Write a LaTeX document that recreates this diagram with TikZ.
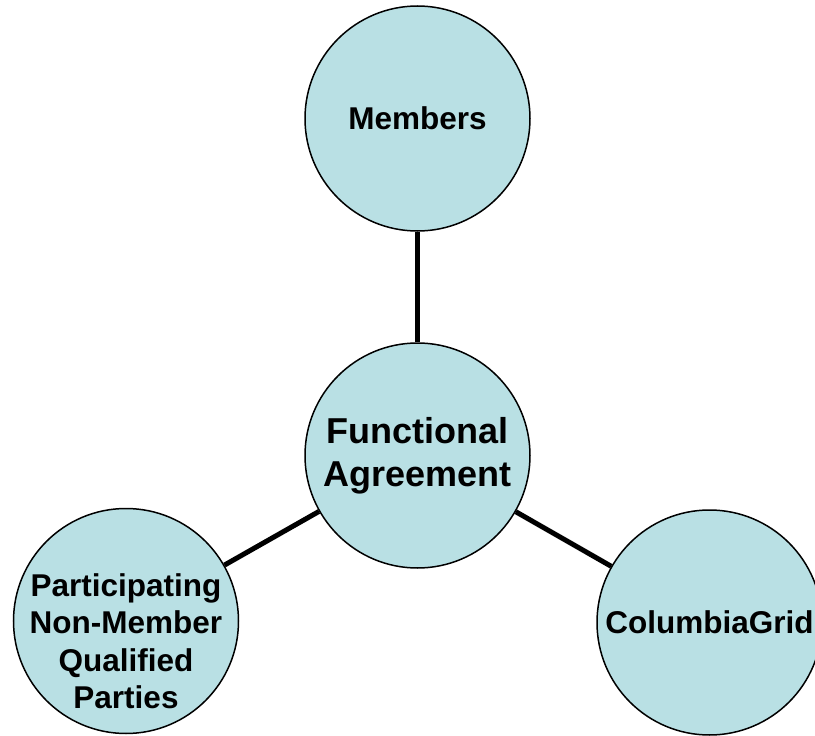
\documentclass[tikz,border=0pt]{standalone}
\usepackage{fontspec}
\setmainfont{Liberation Sans}
\usetikzlibrary{positioning}

\definecolor{partyblue}{RGB}{185,224,228}

\begin{document}
\begin{tikzpicture}[
    x=1pt, y=-1pt,
    party/.style={circle, draw=black, line width=1.5pt, fill=partyblue, minimum size=225pt, inner sep=0pt, text centered, align=center, font=\bfseries\fontsize{31.5}{37.5}\selectfont},
    hub/.style={party, font=\bfseries\fontsize{36}{43}\selectfont},
    partytext/.style={align=center, inner sep=0pt, font=\bfseries\fontsize{31.5}{37.5}\selectfont},
    link/.style={line width=5pt, black}
]
\useasboundingbox (0,0) rectangle (815,736);
\clip (0,0) rectangle (815,736);

% === CIRCLES ===
\node (members) [party] at (417.5,118.5) {Members};
\node (agreement) [hub] at (417.5,455.5) {Functional\\Agreement};
\node (pnmqp) [party] at (126,621) {};
\node (pnmqptext) [partytext] at ([yshift=-20pt]pnmqp.center) {Participating\\Non-Member\\Qualified\\Parties};
\node (cgrid) [party] at (709.5,622.5) {ColumbiaGrid};

% === LINKS ===
\draw [link] (agreement) -- (members);
\draw [link] (agreement) -- (pnmqp);
\draw [link] (agreement) -- (cgrid);

\end{tikzpicture}
\end{document}
